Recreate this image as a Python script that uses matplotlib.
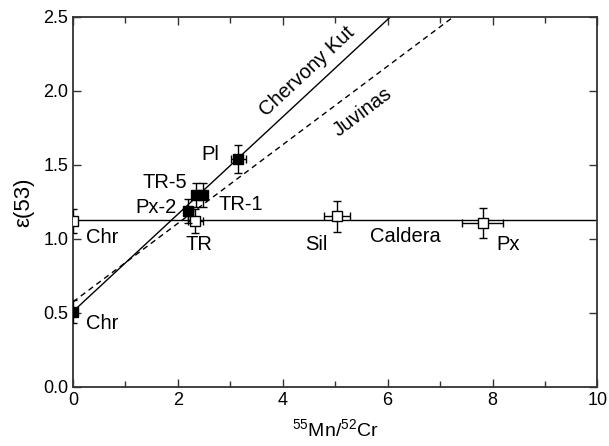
import matplotlib
matplotlib.use('Agg')
import matplotlib.pyplot as plt
import numpy as np

plt.rcParams['font.family'] = ['Liberation Sans', 'DejaVu Sans']
plt.rcParams['mathtext.fontset'] = 'custom'
plt.rcParams['mathtext.rm'] = 'Liberation Sans'

# Chervony Kut (filled squares)
ck_names = ['Chr', 'Px-2', 'TR-5', 'TR-1', 'Pl']
ck_x = [0.0, 2.2, 2.34, 2.48, 3.155]
ck_y = [0.51, 1.19, 1.295, 1.295, 1.54]
ck_xerr = [0.0, 0.08, 0.06, 0.06, 0.14]
ck_yerr = [0.08, 0.08, 0.08, 0.08, 0.094]

# Caldera (open squares)
cal_names = ['Chr', 'TR', 'Sil', 'Px']
cal_x = [0.0, 2.33, 5.03, 7.81]
cal_y = [1.12, 1.12, 1.155, 1.11]
cal_xerr = [0.0, 0.14, 0.25, 0.39]
cal_yerr = [0.08, 0.08, 0.105, 0.1]

# isochron end points
ck_line_x = [0.0, 6.05]
ck_line_y = [0.51, 2.5]
juv_line_x = [0.0, 7.25]
juv_line_y = [0.575, 2.5]
cal_line_x = [0.0, 10.0]
cal_line_y = [1.125, 1.125]

fig = plt.figure(figsize=(6.09, 4.46), dpi=100)
ax = fig.add_axes([0.1199, 0.1323, 0.8611, 0.8296])

ax.plot(ck_line_x, ck_line_y, color='black', lw=1.0)
ax.plot(juv_line_x, juv_line_y, color='black', lw=1.0, ls=(0, (4, 3)))
ax.plot(cal_line_x, cal_line_y, color='black', lw=1.0)

ax.errorbar(cal_x, cal_y, xerr=cal_xerr, yerr=cal_yerr, fmt='s',
            mfc='white', mec='black', mew=1.0, ms=7, ecolor='black',
            elinewidth=1.0, capsize=3, capthick=1.0, zorder=3)
ax.errorbar(ck_x, ck_y, xerr=ck_xerr, yerr=ck_yerr, fmt='s',
            mfc='black', mec='black', ms=7, ecolor='black',
            elinewidth=1.0, capsize=3, capthick=1.0, zorder=4)

fs = 14.5
ax.text(0.25, 1.01, 'Chr', fontsize=fs, ha='left', va='center')
ax.text(0.25, 0.43, 'Chr', fontsize=fs, ha='left', va='center')
ax.text(2.4, 0.96, 'TR', fontsize=fs, ha='center', va='center')
ax.text(1.98, 1.216, 'Px-2', fontsize=fs, ha='right', va='center')
ax.text(2.17, 1.385, 'TR-5', fontsize=fs, ha='right', va='center')
ax.text(2.77, 1.23, 'TR-1', fontsize=fs, ha='left', va='center')
ax.text(2.62, 1.574, 'Pl', fontsize=fs, ha='center', va='center')
ax.text(4.64, 0.96, 'Sil', fontsize=fs, ha='center', va='center')
ax.text(6.34, 1.02, 'Caldera', fontsize=fs, ha='center', va='center')
ax.text(8.3, 0.96, 'Px', fontsize=fs, ha='center', va='center')
ax.text(4.46, 2.13, 'Chervony Kut', fontsize=fs, ha='center', va='center',
        rotation=43)
ax.text(5.53, 1.86, 'Juvinas', fontsize=fs, ha='center', va='center',
        rotation=37)

ax.set_xlim(0, 10)
ax.set_ylim(0, 2.5)
ax.set_xticks(np.arange(0, 11, 2))
ax.set_xticks(np.arange(0, 11, 1), minor=True)
ax.set_yticks(np.arange(0, 2.51, 0.5))
ax.set_yticklabels(['0.0', '0.5', '1.0', '1.5', '2.0', '2.5'])
ax.tick_params(which='both', direction='in', top=True, right=True,
               labelsize=13, width=1.0, color='#333333')
ax.tick_params(which='major', length=6)
ax.tick_params(which='minor', length=4)
for sp in ax.spines.values():
    sp.set_linewidth(1.3)
    sp.set_color('#333333')

ax.set_xlabel(r'$^{55}$Mn/$^{52}$Cr', fontsize=14, labelpad=7)
ax.set_ylabel('ε(53)', fontsize=16, labelpad=6)

fig.savefig('out.png', dpi=100)
